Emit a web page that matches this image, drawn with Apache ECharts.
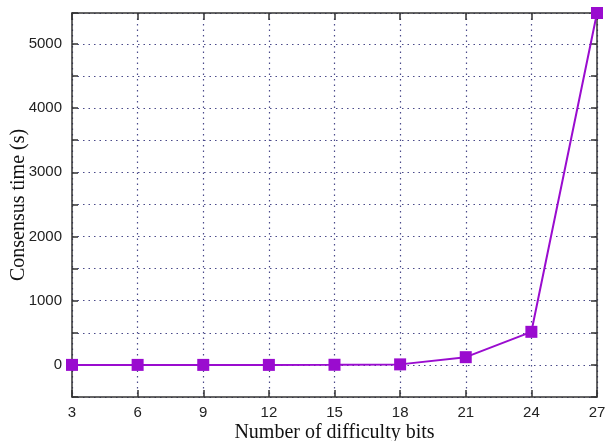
<!DOCTYPE html>
<html>
<head>
<meta charset="utf-8">
<script src="https://cdn.jsdelivr.net/npm/echarts@6/dist/echarts.min.js"></script>
<style>html,body{margin:0;padding:0;background:#fff;}#c{width:605px;height:441px;}</style>
</head>
<body>
<div id="c"></div>
<script>
const bits = [3, 6, 9, 12, 15, 18, 21, 24, 27];
const consensusTime = [0, 0, 0, 0, 2, 8, 120, 515, 5480];
const xTicks = [3, 6, 9, 12, 15, 18, 21, 24, 27];
const yTickLabels = [0, 1000, 2000, 3000, 4000, 5000];

const chart = echarts.init(document.getElementById('c'), null, {renderer: 'canvas'});
const lineCol = '#9a0ccf';
const axisCol = '#333';
const gridLine = {show: true, lineStyle: {color: '#4a4a8a', type: [1.5, 4], width: 1.2}};
chart.setOption({
  animation: false,
  backgroundColor: '#fff',
  grid: {left: 72, right: 8, top: 13, bottom: 44, show: false, containLabel: false, outerBoundsMode: 'none'},
  xAxis: [{
    type: 'value', min: 3, max: 27, interval: 3, position: 'bottom',
    name: 'Number of difficulty bits', nameLocation: 'middle', nameGap: 26, nameMoveOverlap: false,
    nameTextStyle: {fontFamily: 'Liberation Serif', fontSize: 20, color: '#111'},
    axisLine: {show: true, onZero: false, lineStyle: {color: axisCol, width: 1.5}},
    axisTick: {show: true, inside: true, length: 7, lineStyle: {color: axisCol, width: 1.5}},
    axisLabel: {fontFamily: 'Liberation Sans', fontSize: 15, color: '#222', margin: 8,
      formatter: v => xTicks.includes(v) ? String(v) : ''},
    splitLine: gridLine
  }, {
    type: 'value', min: 3, max: 27, interval: 3, position: 'top',
    axisLine: {show: true, onZero: false, lineStyle: {color: axisCol, width: 1.5}},
    axisTick: {show: true, inside: true, length: 7, lineStyle: {color: axisCol, width: 1.5}},
    axisLabel: {show: false}, splitLine: {show: false}
  }],
  yAxis: [{
    type: 'value', min: -500, max: 5480, interval: 500, position: 'left',
    name: 'Consensus time (s)', nameLocation: 'middle', nameGap: 43, nameMoveOverlap: false,
    nameTextStyle: {fontFamily: 'Liberation Serif', fontSize: 20, color: '#111'},
    axisLine: {show: true, onZero: false, lineStyle: {color: axisCol, width: 1.5}},
    axisTick: {show: true, inside: true, length: 6, lineStyle: {color: axisCol, width: 1.5}},
    axisLabel: {fontFamily: 'Liberation Sans', fontSize: 15, color: '#222', margin: 10,
      formatter: v => yTickLabels.includes(v) ? String(v) : ''},
    splitLine: gridLine
  }, {
    type: 'value', min: -500, max: 5480, interval: 500, position: 'right',
    axisLine: {show: true, onZero: false, lineStyle: {color: axisCol, width: 1.5}},
    axisTick: {show: true, inside: true, length: 6, lineStyle: {color: axisCol, width: 1.5}},
    axisLabel: {show: false}, splitLine: {show: false}
  }],
  series: [{
    type: 'line',
    data: bits.map((b, i) => [b, consensusTime[i]]),
    symbol: 'rect', symbolSize: 12,
    lineStyle: {color: lineCol, width: 2},
    itemStyle: {color: lineCol},
    clip: false
  }]
});
</script>
</body>
</html>
